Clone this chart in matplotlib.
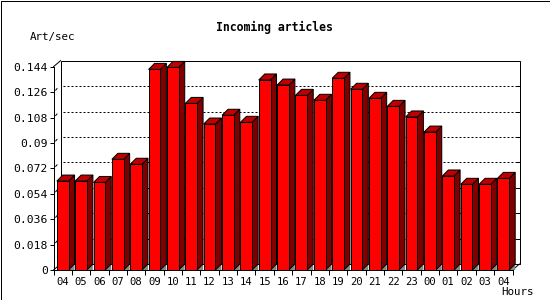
import matplotlib
matplotlib.use('Agg')
import matplotlib.pyplot as plt
from matplotlib.patches import Polygon, Rectangle
from matplotlib.transforms import offset_copy
from matplotlib.ticker import FixedLocator

# ---- data ----
hours = ['04', '05', '06', '07', '08', '09', '10', '11', '12', '13', '14', '15', '16',
         '17', '18', '19', '20', '21', '22', '23', '00', '01', '02', '03', '04']
values = [0.0630, 0.0630, 0.0620, 0.0784, 0.0749, 0.1421, 0.1435, 0.1180, 0.1034,
          0.1096, 0.1046, 0.1346, 0.1310, 0.1237, 0.1202, 0.1358, 0.1280, 0.1216,
          0.1159, 0.1084, 0.0977, 0.0666, 0.0607, 0.0607, 0.0649]
yticks = [0, 0.018, 0.036, 0.054, 0.072, 0.09, 0.108, 0.126, 0.144]
ytick_labels = ['0', '0.018', '0.036', '0.054', '0.072', '0.09', '0.108', '0.126', '0.144']
title = 'Incoming articles'
ylabel = 'Art/sec'
xlabel = 'Hours'

# ---- layout (pixels) ----
W, H = 550, 300
L, R, B, T = 53.5, 512.5, 270.0, 66.7
DX, DY = 7, 6        # depth of the plot box
BD = 6               # depth of bars
PX = 0.72            # 1 pixel in points
MONO = 'DejaVu Sans Mono'

fig = plt.figure(figsize=(W / 100, H / 100), dpi=100)
fig.patch.set_facecolor('white')
ax = fig.add_axes([L / W, 1 - B / H, (R - L) / W, (B - T) / H])
n = len(hours)
ymax = yticks[-1]
ax.set_xlim(0, n)
ax.set_ylim(0, ymax)
ax.patch.set_alpha(0)

sx = (R - L) / n          # px per slot
sy = (B - T) / ymax       # px per unit
back = offset_copy(ax.transData, fig=fig, x=DX, y=DY, units='dots')

# back wall
ax.add_patch(Rectangle((0, 0), n, ymax, transform=back, facecolor='white',
                       edgecolor='black', lw=PX, zorder=0, clip_on=False))
for yv in yticks[1:-1]:
    ax.plot([0.15, n], [yv, yv], transform=back, color='black', lw=PX,
            linestyle=(0, (2, 2)), zorder=1, clip_on=False)
    # right wall ticks
    ax.plot([n - 3 / sx, n], [yv, yv], transform=back, color='black', lw=PX,
            zorder=1, clip_on=False)
    # small marks on the left side wall
    ax.plot([2.2 / sx, 3.5 / sx], [yv + 2 / sy, yv + 3.5 / sy], color='black',
            lw=PX, zorder=1, clip_on=False)

# box diagonals
for (x0, y0) in [(0, ymax), (n, 0), (0, 0)]:
    ax.plot([x0, x0 + DX / sx], [y0, y0 + DY / sy], color='black', lw=PX,
            zorder=1, clip_on=False)

# bars
bw = 0.64
xc = [i + 0.5 for i in range(n)]
ax.bar(xc, values, width=bw, color='#ff0000', edgecolor='black', lw=PX, zorder=4)
ddx, ddy = BD / sx, BD / sy
for x, v in zip(xc, values):
    xl, xr = x - bw / 2, x + bw / 2
    ax.add_patch(Polygon([(xr, 0), (xr + ddx, ddy), (xr + ddx, 0)], closed=True,
                         facecolor='#888888', edgecolor='none', zorder=2, clip_on=False))
    ax.add_patch(Polygon([(xr, 0), (xr, v), (xr + ddx, v + ddy), (xr + ddx, ddy)],
                         closed=True, facecolor='#800000', edgecolor='black', lw=PX,
                         zorder=3, clip_on=False))
    ax.add_patch(Polygon([(xl, v), (xl + ddx, v + ddy), (xr + ddx, v + ddy), (xr, v)],
                         closed=True, facecolor='#c00000', edgecolor='black', lw=PX,
                         zorder=3, clip_on=False))

# axes / ticks
for s in ['top', 'right']:
    ax.spines[s].set_visible(False)
for s in ['left', 'bottom']:
    ax.spines[s].set_linewidth(PX)
    ax.spines[s].set_zorder(5)
ax.set_yticks(yticks)
ax.set_yticklabels(ytick_labels, family=MONO, fontsize=8.2)
ax.tick_params(axis='y', direction='out', length=4 * PX, width=PX, pad=1)
ax.set_xticks(xc)
ax.set_xticklabels(hours, family=MONO, fontsize=7.6)
ax.tick_params(axis='x', which='major', length=0, pad=5)
ax.xaxis.set_minor_locator(FixedLocator(list(range(n + 1))))
ax.tick_params(axis='x', which='minor', direction='out', length=5 * PX, width=PX)

fig.text(274 / W, 1 - 27 / H, title, ha='center', va='center', family=MONO,
         fontweight='bold', fontsize=8.3)
fig.text(30 / W, 1 - 37 / H, ylabel, ha='left', va='center', family=MONO, fontsize=7.8)
fig.text(534 / W, 1 - 292 / H, xlabel, ha='right', va='center', family=MONO, fontsize=7.8)

fig.add_artist(Rectangle((0.5 / W, 0.5 / H), (W - 1) / W, (H - 1) / H,
                         transform=fig.transFigure, fill=False, edgecolor='black',
                         lw=PX))

fig.savefig('out.png', dpi=100, facecolor='white')
